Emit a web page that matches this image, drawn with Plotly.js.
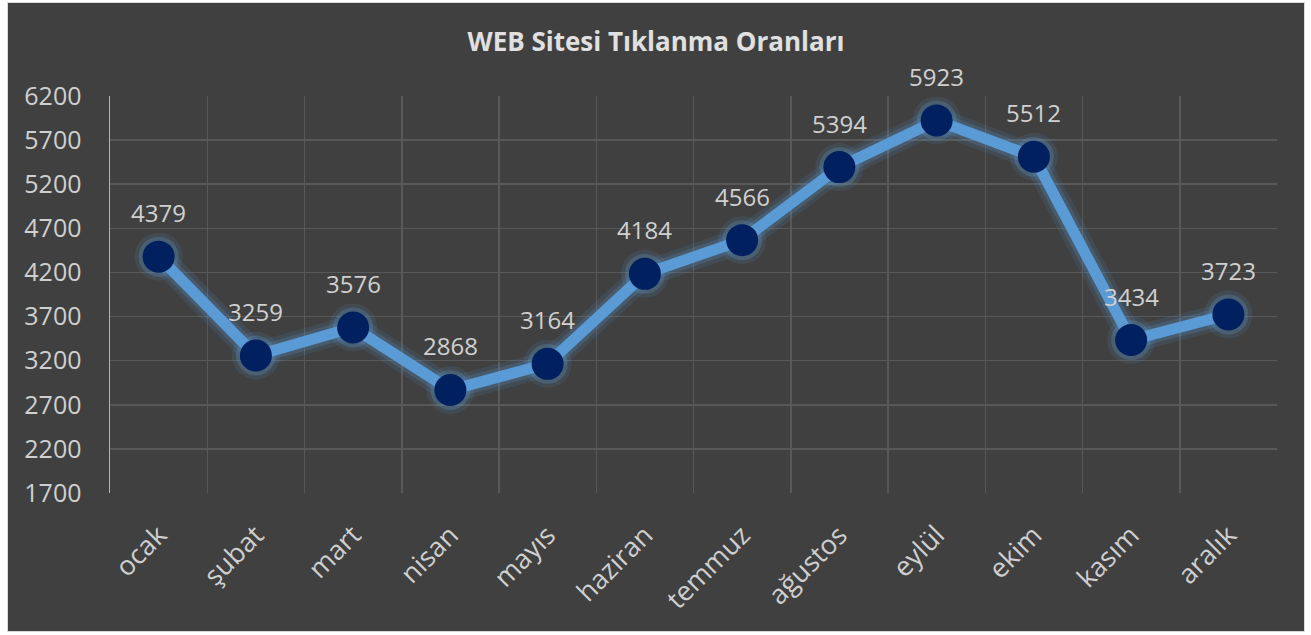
<!DOCTYPE html>
<html>
  <head>
    <title>WEB Sitesi Tıklanma Oranları</title>
    <meta http-equiv="content-type" content="text/html; charset=utf-8" />
    <style>
      body {
        margin: 0;
        background-color: #FFFFFF;
      }

      #chart {
        position: absolute;
        left: 7px;
        top: 2px;
        width: 1296px;
        height: 628px;
        border: 1px solid #D9D9D9;
      }
    </style>
    <script src="https://cdn.plot.ly/plotly-3.0.1.min.js"></script>
  </head>
  <body>
    <div id="chart"></div>
    <script>
      var months = ['ocak', 'şubat', 'mart', 'nisan', 'mayıs', 'haziran', 'temmuz', 'ağustos', 'eylül', 'ekim', 'kasım', 'aralık'];
      var clicks = [4379, 3259, 3576, 2868, 3164, 4184, 4566, 5394, 5923, 5512, 3434, 3723];
      var yTicks = [1700, 2200, 2700, 3200, 3700, 4200, 4700, 5200, 5700, 6200];

      var font = 'Open Sans, sans-serif';

      // soft glow under the line, then the line itself
      var sets = [
        {
          x: months,
          y: clicks,
          type: 'scatter',
          mode: 'lines+markers',
          line: {color: 'rgba(91,155,213,0.12)', width: 26},
          marker: {size: 48, color: 'rgba(91,155,213,0.12)'},
          hoverinfo: 'skip'
        },
        {
          x: months,
          y: clicks,
          type: 'scatter',
          mode: 'lines+markers',
          line: {color: 'rgba(91,155,213,0.2)', width: 18},
          marker: {size: 40, color: 'rgba(91,155,213,0.25)'},
          hoverinfo: 'skip'
        },
        {
          name: 'Tıklanma',
          x: months,
          y: clicks,
          type: 'scatter',
          mode: 'lines+markers',
          line: {color: '#5B9BD5', width: 11},
          marker: {size: 32, color: '#002060'}
        }
      ];

      var notes = [];
      for (var i = 0; i < months.length; i++) {
        notes.push({
          x: months[i],
          y: clicks[i],
          text: String(clicks[i]),
          showarrow: false,
          yshift: 44,
          font: {family: font, size: 24, color: '#D0D0D0'}
        });
      }

      var options = {
        title: {
          text: '<b>WEB Sitesi Tıklanma Oranları</b>',
          font: {family: font, size: 26, color: '#E0E0E0'},
          x: 0.5,
          xanchor: 'center',
          y: 0.938,
          yanchor: 'middle'
        },
        paper_bgcolor: '#404040',
        plot_bgcolor: '#404040',
        showlegend: false,
        margin: {l: 102, r: 27, t: 93, b: 138},
        xaxis: {
          type: 'category',
          range: [-0.5, 11.5],
          tickson: 'boundaries',
          showgrid: true,
          gridcolor: '#585858',
          gridwidth: 1.5,
          ticks: '',
          tickangle: -45,
          ticklabelstandoff: 20,
          tickfont: {family: font, size: 27, color: '#CFCFCF'},
          showline: false,
          zeroline: false,
          fixedrange: true
        },
        yaxis: {
          range: [1700, 6200],
          tickmode: 'array',
          tickvals: yTicks,
          ticktext: yTicks.map(String),
          showgrid: true,
          gridcolor: '#585858',
          gridwidth: 1.5,
          showline: true,
          linecolor: '#A9C18B',
          linewidth: 1.5,
          ticks: '',
          ticklabelstandoff: 22,
          tickfont: {family: font, size: 25, color: '#D0D0D0'},
          zeroline: false,
          fixedrange: true
        },
        annotations: notes
      };

      Plotly.newPlot('chart', sets, options, {displayModeBar: false, staticPlot: true});
    </script>
  </body>
</html>
